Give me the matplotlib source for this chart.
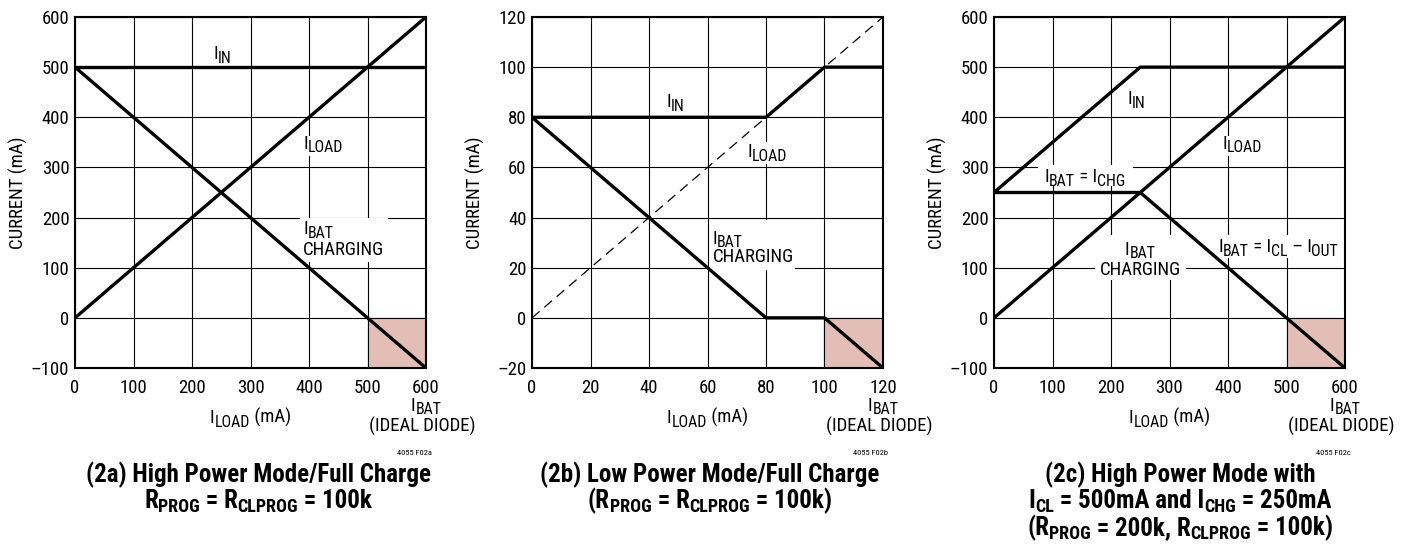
import matplotlib
matplotlib.use("Agg")
import matplotlib.pyplot as plt
from matplotlib.font_manager import fontManager
from matplotlib.patches import Rectangle
from matplotlib.transforms import ScaledTranslation

names = {f.name for f in fontManager.ttflist}
STRETCH = 'normal'
FAM = ["DejaVu Sans"]
for cand in ["Liberation Sans Narrow", "Roboto Condensed", "Open Sans Condensed", "Arial Narrow"]:
    if cand in names:
        FAM = [cand, "DejaVu Sans"]
        break
else:
    conds = [f for f in fontManager.ttflist if f.name == "DejaVu Sans" and 'condensed' in str(f.stretch)]
    if conds:
        STRETCH = conds[0].stretch
plt.rcParams['font.family'] = FAM
plt.rcParams['font.stretch'] = STRETCH

# ---------------- data ----------------
# Panel (2a)
a_xticks = [0, 100, 200, 300, 400, 500, 600]
a_yticks = [-100, 0, 100, 200, 300, 400, 500, 600]
a_in_x = [0, 600]
a_in_y = [500, 500]
a_load_x = [0, 600]
a_load_y = [0, 600]
a_bat_x = [0, 600]
a_bat_y = [500, -100]
a_diode = [500, 600, -100, 0]

# Panel (2b)
b_xticks = [0, 20, 40, 60, 80, 100, 120]
b_yticks = [-20, 0, 20, 40, 60, 80, 100, 120]
b_in_x = [0, 80, 100, 120]
b_in_y = [80, 80, 100, 100]
b_load_x = [0, 120]
b_load_y = [0, 120]
b_bat_x = [0, 80, 100, 120]
b_bat_y = [80, 0, 0, -20]
b_diode = [100, 120, -20, 0]

# Panel (2c)
c_xticks = [0, 100, 200, 300, 400, 500, 600]
c_yticks = [-100, 0, 100, 200, 300, 400, 500, 600]
c_in_x = [0, 250, 600]
c_in_y = [250, 500, 500]
c_load_x = [0, 600]
c_load_y = [0, 600]
c_bat_x = [0, 250, 500, 600]
c_bat_y = [250, 250, 0, -100]
c_diode = [500, 600, -100, 0]

# text pieces: (text, is_subscript)
captions = [
    [[("(2a) High Power Mode/Full Charge", 0)],
     [("R", 0), ("PROG", 1), (" = R", 0), ("CLPROG", 1), (" = 100k", 0)]],
    [[("(2b) Low Power Mode/Full Charge", 0)],
     [("(R", 0), ("PROG", 1), (" = R", 0), ("CLPROG", 1), (" = 100k)", 0)]],
    [[("(2c) High Power Mode with", 0)],
     [("I", 0), ("CL", 1), (" = 500mA and I", 0), ("CHG", 1), (" = 250mA", 0)],
     [("(R", 0), ("PROG", 1), (" = 200k, R", 0), ("CLPROG", 1), (" = 100k)", 0)]],
]
fig_ids = ["4055 F02a", "4055 F02b", "4055 F02c"]

# ---------------- figure ----------------
W, H = 1416, 550
DPI = 100
fig = plt.figure(figsize=(W / DPI, H / DPI), dpi=DPI)
renderer = fig.canvas.get_renderer()

ax_lefts = [75, 532, 994]
ax_w, ax_top, ax_h = 351, 17, 351
cap_centers = [258, 710, 1180]

LW = 2.4
FS = 13.5
SHADE = '#e3beb6'


def rich(parts, x, y, transform, fs, ha='left', weight='normal', sub_scale=0.85,
         sub_drop=2.6, zorder=4):
    """Draw text with subscripts; (x, y) is the baseline anchor."""
    widths = []
    for s, sub in parts:
        t = fig.text(0, 0, s, fontsize=fs * (sub_scale if sub else 1), fontweight=weight)
        widths.append(t.get_window_extent(renderer).width)
        t.remove()
    total = sum(widths)
    start = {'left': 0, 'center': -total / 2, 'right': -total}[ha]
    off = start
    for (s, sub), w in zip(parts, widths):
        tr = transform + ScaledTranslation(off / DPI, (-sub_drop if sub else 0) / 72,
                                           fig.dpi_scale_trans)
        fig.text(x, y, s, transform=tr, fontsize=fs * (sub_scale if sub else 1),
                 fontweight=weight, ha='left', va='baseline', zorder=zorder)
        off += w


def mask(ax, x0, x1, y0, y1):
    ax.add_patch(Rectangle((x0, y0), x1 - x0, y1 - y0, facecolor='white',
                           edgecolor='none', zorder=2))


def setup(ax, xticks, yticks, diode):
    ax.set_xlim(xticks[0], xticks[-1])
    ax.set_ylim(yticks[0], yticks[-1])
    ax.set_xticks(xticks)
    ax.set_yticks(yticks)
    ax.set_xticklabels([str(v) for v in xticks])
    ax.set_yticklabels([str(v).replace('-', '\u2013') for v in yticks])
    ax.tick_params(length=0, labelsize=FS, pad=4)
    ax.tick_params(axis='x', pad=8)
    ax.grid(True, color='black', linewidth=0.8)
    ax.set_axisbelow(True)
    for s in ax.spines.values():
        s.set_linewidth(1.5)
        s.set_zorder(5)
    x0, x1, y0, y1 = diode
    ax.fill_between([x0, x1], [y0, y0], [y1, y1], color=SHADE, zorder=1.5, linewidth=0)
    ax.plot([x0, x0], [y0, y1], color='black', lw=0.8, zorder=1.6)
    ax.plot([x0, x1], [y1, y1], color='black', lw=0.8, zorder=1.6)
    ax.text(-57 / 351, 0.5, 'CURRENT (mA)', transform=ax.transAxes, rotation=90,
            ha='center', va='center', fontsize=FS)
    tx = ax.transAxes
    rich([("I", 0), ("LOAD", 1), (" (mA)", 0)], 0.5, (368 - 423) / 351, tx, FS, ha='center')
    rich([("I", 0), ("BAT", 1)], 1.0, (368 - 411) / 351, tx, FS, ha='center', sub_drop=2.2)
    rich([("(IDEAL DIODE)", 0)], 0.99, (368 - 432) / 351, tx, FS, ha='center')


axes = []
for i, l in enumerate(ax_lefts):
    ax = fig.add_axes([l / W, 1 - (ax_top + ax_h) / H, ax_w / W, ax_h / H])
    axes.append(ax)

# Panel a
ax = axes[0]
setup(ax, a_xticks, a_yticks, a_diode)
ax.plot(a_in_x, a_in_y, color='black', lw=LW, zorder=3)
ax.plot(a_load_x, a_load_y, color='black', lw=LW, zorder=3)
ax.plot(a_bat_x, a_bat_y, color='black', lw=LW, zorder=3)
td = ax.transData
mask(ax, 385, 535, 112, 199)
mask(ax, 386, 460, 322, 362)
rich([("I", 0), ("IN", 1)], 236, 516, td, FS)
rich([("I", 0), ("LOAD", 1)], 390, 337, td, FS)
rich([("I", 0), ("BAT", 1)], 390, 167, td, FS)
rich([("CHARGING", 0)], 390, 126, td, FS)

# Panel b
ax = axes[1]
setup(ax, b_xticks, b_yticks, b_diode)
ax.plot(b_load_x, b_load_y, color='black', lw=0.9, ls=(0, (8, 5)), zorder=3)
ax.plot(b_in_x, b_in_y, color='black', lw=LW, zorder=3)
ax.plot(b_bat_x, b_bat_y, color='black', lw=LW, zorder=3)
td = ax.transData
mask(ax, 61, 90, 19, 39)
mask(ax, 73, 87.5, 61.5, 70)
rich([("I", 0), ("IN", 1)], 46, 84, td, FS)
rich([("I", 0), ("LOAD", 1)], 73.7, 64, td, FS)
rich([("I", 0), ("BAT", 1)], 61.7, 29.6, td, FS)
rich([("CHARGING", 0)], 61.7, 22.3, td, FS)

# Panel c
ax = axes[2]
setup(ax, c_xticks, c_yticks, c_diode)
ax.plot(c_in_x, c_in_y, color='black', lw=LW, zorder=3)
ax.plot(c_load_x, c_load_y, color='black', lw=LW, zorder=3)
ax.plot(c_bat_x, c_bat_y, color='black', lw=LW, zorder=3)
td = ax.transData
mask(ax, 75, 237, 262, 305)
mask(ax, 172, 329, 75, 165)
mask(ax, 375, 596, 120, 166)
mask(ax, 386, 460, 322, 362)
rich([("I", 0), ("IN", 1)], 228, 426, td, FS)
rich([("I", 0), ("LOAD", 1)], 390, 337, td, FS)
rich([("I", 0), ("BAT", 1), (" = I", 0), ("CHG", 1)], 155, 271, td, FS, ha='center')
rich([("I", 0), ("BAT", 1)], 250, 125, td, FS, ha='center', sub_drop=2.2)
rich([("CHARGING", 0)], 250, 86, td, FS, ha='center')
rich([("I", 0), ("BAT", 1), (" = I", 0), ("CL", 1), (" \u2013 I", 0), ("OUT", 1)],
     486, 131, td, FS, ha='center')

# Figure ids and captions
for i, l in enumerate(ax_lefts):
    fig.text((l + ax_w - 12) / W, 1 - 455 / H, fig_ids[i], ha='center', va='baseline', fontsize=6)
    ys = [482, 508, 535]
    for j, line in enumerate(captions[i]):
        rich(line, cap_centers[i] / W, 1 - ys[j] / H, fig.transFigure, 18, ha='center',
             weight='bold', sub_scale=0.72, sub_drop=3.0)

fig.savefig('out.png', dpi=DPI)
